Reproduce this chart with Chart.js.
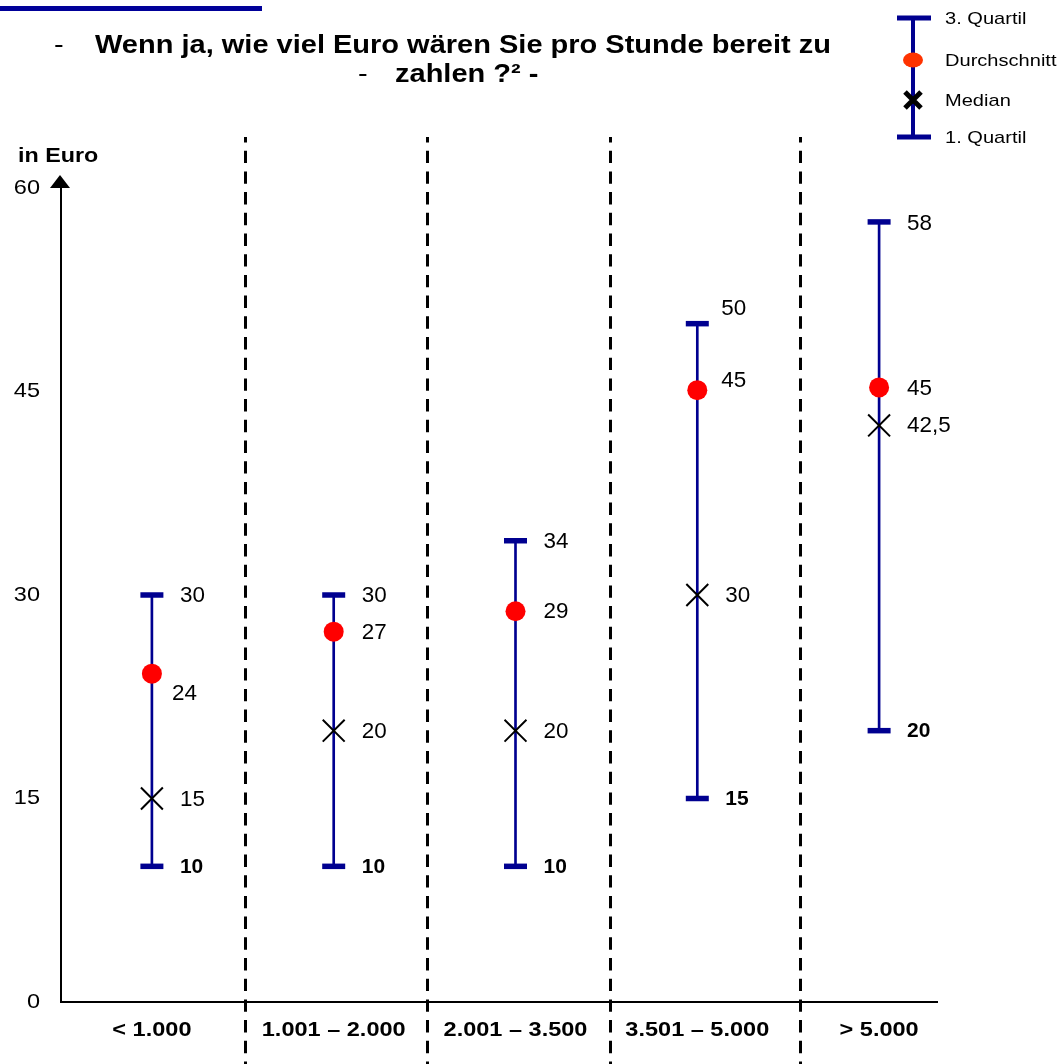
<!DOCTYPE html>
<html><head><meta charset="utf-8">
<script src="https://cdn.jsdelivr.net/npm/chart.js@4/dist/chart.umd.min.js"></script>
<style>
html,body{margin:0;padding:0;background:#fff;width:1062px;height:1064px;overflow:hidden;font-family:'Liberation Sans',Arial,sans-serif;}
#wrap{position:relative;width:1062px;height:1064px;}
canvas{position:absolute;left:0;top:0;}
.t{position:absolute;white-space:nowrap;font-size:25px;line-height:25px;color:#000;transform-origin:0 0;transform:scaleX(1.16);}
.b{font-weight:bold;}
#bar{position:absolute;left:0;top:6px;width:262px;height:5px;background:#000099;}
</style></head><body>
<div id="wrap">
<canvas id="c" width="1062" height="1064"></canvas>
<div id="bar"></div>
<div class="t" style="left:54px;top:32px;">-</div>
<div class="t b" style="left:95px;top:32px;">Wenn ja, wie viel Euro wären Sie pro Stunde bereit zu</div>
<div class="t" style="left:358px;top:61px;">-</div>
<div class="t b" style="left:395px;top:61px;">zahlen ?² -</div>
</div>
<script>
// ---- data ----
const categories = ['< 1.000', '1.001 – 2.000', '2.001 – 3.500', '3.501 – 5.000', '> 5.000'];
const quartile1 = [10, 10, 10, 15, 20];
const quartile3 = [30, 30, 34, 50, 57.5];
const medianValues = [15, 20, 20, 30, 42.5];
const meanValues = [24.2, 27.3, 28.8, 45.1, 45.3];
const yTicks = [0, 15, 30, 45, 60];
const legendLabels = ['3. Quartil', 'Durchschnitt', 'Median', '1. Quartil'];
const yAxisTitle = 'in Euro';

// ---- layout / style constants ----
const NAVY = '#000090';
const FONT = "'Liberation Sans', Arial, sans-serif";
const dividerPositions = [0.512, 1.513, 2.52, 3.565]; // in category units
const xAxisEnd = 4.324; // category units

const fmtRound = v => Math.round(v).toLocaleString('de-DE');
const fmtPlain = v => v.toLocaleString('de-DE');

const labelSets = [
  { values: quartile3, fmt: fmtRound, bold: false, dx: [28, 28, 28, 24, 28], dy: [0, 0, 0, -16, 1] },
  { values: meanValues, fmt: fmtRound, bold: false, dx: [20, 28, 28, 24, 28], dy: [19, 0, 0, -10, 1] },
  { values: medianValues, fmt: fmtPlain, bold: false, dx: [28, 28, 28, 28, 28], dy: [0, 0, 0, 0, 0] },
  { values: quartile1, fmt: fmtPlain, bold: true, dx: [28, 28, 28, 28, 28], dy: [0, 0, 0, 0, 0] }
];

// draws text stretched horizontally (the reference's text is wider than its height suggests)
function stretchedText(ctx, text, x, y, sx) {
  ctx.save(); ctx.translate(x, y); ctx.scale(sx, 1); ctx.fillText(text, 0, 0); ctx.restore();
}
function withStretch(ctx, sx, fn) {
  const orig = ctx.fillText;
  ctx.fillText = function (t, x, y, mw) {
    this.save(); this.translate(x, y); this.scale(sx, 1);
    orig.call(this, t, 0, 0, mw); this.restore();
  };
  try { fn(); } finally { ctx.fillText = orig; }
}
class StretchCategory extends Chart.CategoryScale {
  drawLabels(area) { withStretch(this.ctx, this.options.stretch || 1, () => super.drawLabels(area)); }
}
StretchCategory.id = 'stretchCategory';
StretchCategory.defaults = Chart.CategoryScale.defaults;
class StretchLinear extends Chart.LinearScale {
  drawLabels(area) { withStretch(this.ctx, this.options.stretch || 1, () => super.drawLabels(area)); }
}
StretchLinear.id = 'stretchLinear';
StretchLinear.defaults = Chart.LinearScale.defaults;
Chart.register(StretchCategory, StretchLinear);

const decorPlugin = {
  id: 'decor',
  beforeDatasetsDraw(chart) {
    const ctx = chart.ctx, x = chart.scales.x, y = chart.scales.y, a = chart.chartArea;
    ctx.save();
    // dashed dividers
    ctx.strokeStyle = '#000'; ctx.lineWidth = 3; ctx.setLineDash([12.4, 8.3]); ctx.lineDashOffset = 7;
    dividerPositions.forEach(p => {
      const px = Math.round(x.getPixelForValue(p)) + 0.5;
      ctx.beginPath(); ctx.moveTo(px, 137); ctx.lineTo(px, 1064); ctx.stroke();
    });
    ctx.setLineDash([]);
    // x axis line
    const y0 = y.getPixelForValue(0);
    ctx.lineWidth = 2;
    ctx.beginPath(); ctx.moveTo(a.left - 1, y0); ctx.lineTo(x.getPixelForValue(xAxisEnd), y0); ctx.stroke();
    // y axis arrow
    const top = y.getPixelForValue(yTicks[yTicks.length - 1]);
    ctx.fillStyle = '#000';
    ctx.beginPath(); ctx.moveTo(a.left - 1, top - 13); ctx.lineTo(a.left - 11, top); ctx.lineTo(a.left + 9, top); ctx.closePath(); ctx.fill();
    // y axis title
    ctx.font = 'bold 21px ' + FONT; ctx.textAlign = 'left'; ctx.textBaseline = 'middle';
    stretchedText(ctx, yAxisTitle, 18, top - 32, 1.11);
    // legend
    const lx = 913;
    const ly = [18, 60, 100, 137];
    ctx.strokeStyle = NAVY; ctx.lineWidth = 4;
    ctx.beginPath(); ctx.moveTo(lx, ly[0]); ctx.lineTo(lx, ly[3]); ctx.stroke();
    ctx.lineWidth = 5;
    [ly[0], ly[3]].forEach(v => { ctx.beginPath(); ctx.moveTo(lx - 16, v); ctx.lineTo(lx + 18, v); ctx.stroke(); });
    ctx.fillStyle = '#FF3300';
    ctx.beginPath(); ctx.ellipse(lx, ly[1], 10, 7.5, 0, 0, Math.PI * 2); ctx.fill();
    ctx.strokeStyle = '#000'; ctx.lineWidth = 5;
    ctx.beginPath(); ctx.moveTo(lx - 8, ly[2] - 8); ctx.lineTo(lx + 8, ly[2] + 8);
    ctx.moveTo(lx + 8, ly[2] - 8); ctx.lineTo(lx - 8, ly[2] + 8); ctx.stroke();
    ctx.fillStyle = '#000'; ctx.font = '17px ' + FONT;
    legendLabels.forEach((t, i) => stretchedText(ctx, t, 945, ly[i] + 1, 1.18));
    ctx.restore();
  },
  afterDatasetsDraw(chart) {
    const ctx = chart.ctx, x = chart.scales.x, y = chart.scales.y;
    ctx.save();
    ctx.fillStyle = '#000'; ctx.textAlign = 'left'; ctx.textBaseline = 'middle';
    labelSets.forEach(s => {
      ctx.font = (s.bold ? 'bold 20px ' : '22px ') + FONT;
      s.values.forEach((v, i) => {
        stretchedText(ctx, s.fmt(v), x.getPixelForValue(i) + s.dx[i], y.getPixelForValue(v) + s.dy[i] + 1, s.bold ? 1.05 : 1.02);
      });
    });
    ctx.restore();
  }
};

const pointDs = (data, style, order) => Object.assign({
  type: 'line', data, showLine: false, order
}, style);

new Chart(document.getElementById('c'), {
  type: 'bar',
  data: {
    labels: categories,
    datasets: [
      { type: 'bar', data: quartile1.map((q, i) => [q, quartile3[i]]), backgroundColor: NAVY,
        barThickness: 2, borderWidth: 0, order: 4 },
      pointDs(quartile3, { pointStyle: 'line', pointRadius: 11.5, pointBorderWidth: 5.5, pointBorderColor: NAVY, pointBackgroundColor: NAVY }, 3),
      pointDs(quartile1, { pointStyle: 'line', pointRadius: 11.5, pointBorderWidth: 5.5, pointBorderColor: NAVY, pointBackgroundColor: NAVY }, 2),
      pointDs(medianValues, { pointStyle: 'crossRot', pointRadius: 15.5, pointBorderWidth: 2, pointBorderColor: '#000', pointBackgroundColor: '#000' }, 1),
      pointDs(meanValues, { pointStyle: 'circle', pointRadius: 10, pointBorderWidth: 0, pointBackgroundColor: '#FF0000', pointBorderColor: '#FF0000' }, 0)
    ]
  },
  options: {
    responsive: false,
    animation: false,
    devicePixelRatio: 1,
    events: [],
    layout: { padding: { top: 188, right: 92, left: 0, bottom: 0 } },
    plugins: { legend: { display: false }, tooltip: { enabled: false }, title: { display: false } },
    scales: {
      x: {
        type: 'stretchCategory',
        stretch: 1.12,
        grid: { display: false, drawTicks: false },
        border: { display: false },
        ticks: { color: '#000', font: { family: FONT, size: 21, weight: 'bold' }, padding: 16, maxRotation: 0, autoSkip: false },
        afterFit: s => { s.height = 62; }
      },
      y: {
        type: 'stretchLinear',
        stretch: 1.12,
        min: 0, max: 60,
        grid: { display: false, drawTicks: false },
        border: { display: true, color: '#000', width: 2 },
        ticks: { color: '#000', font: { family: FONT, size: 21 }, padding: 21 },
        afterBuildTicks: s => { s.ticks = yTicks.map(v => ({ value: v })); },
        afterFit: s => { s.width = 61; }
      }
    }
  },
  plugins: [decorPlugin]
});
</script>
</body></html>
